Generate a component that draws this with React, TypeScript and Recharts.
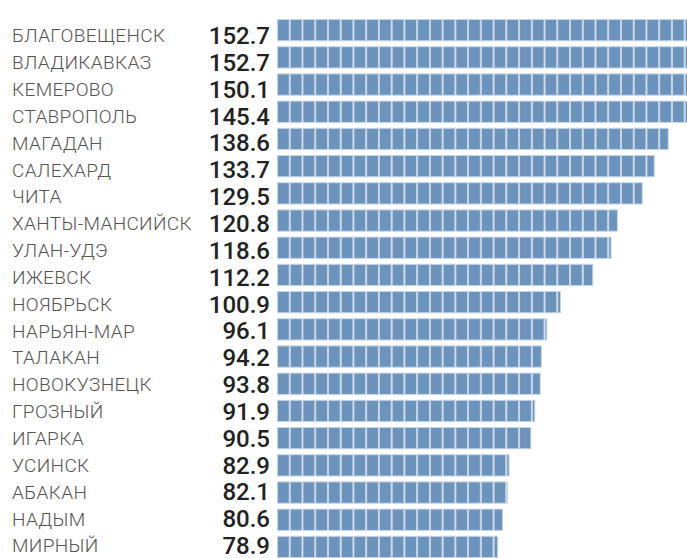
import React from 'react';
import { BarChart, Bar, XAxis, YAxis } from 'recharts';

const cities = [
  'БЛАГОВЕЩЕНСК', 'ВЛАДИКАВКАЗ', 'КЕМЕРОВО', 'СТАВРОПОЛЬ', 'МАГАДАН',
  'САЛЕХАРД', 'ЧИТА', 'ХАНТЫ-МАНСИЙСК', 'УЛАН-УДЭ', 'ИЖЕВСК',
  'НОЯБРЬСК', 'НАРЬЯН-МАР', 'ТАЛАКАН', 'НОВОКУЗНЕЦК', 'ГРОЗНЫЙ',
  'ИГАРКА', 'УСИНСК', 'АБАКАН', 'НАДЫМ', 'МИРНЫЙ',
];
const values = [
  152.7, 152.7, 150.1, 145.4, 138.6,
  133.7, 129.5, 120.8, 118.6, 112.2,
  100.9, 96.1, 94.2, 93.8, 91.9,
  90.5, 82.9, 82.1, 80.6, 78.9,
];

const data = cities.map((name, i) => ({ name, value: values[i] }));

const BLUE = '#6b93bc';
const EDGE = '#c6d5e6';
const PITCH = 12.74;

const SegmentedBar = (props: any) => {
  const { x, y, width, height } = props;
  if (!width || width <= 0) return null;
  const rects = [];
  for (let i = 0, s = x; s < x + width - 0.2; i++, s += PITCH) {
    const w = Math.min(PITCH, x + width - s);
    rects.push(
      <rect
        key={i}
        x={s + 0.5}
        y={y + 0.5}
        width={Math.max(w - 1, 0.5)}
        height={height - 1}
        fill={BLUE}
        stroke={EDGE}
        strokeWidth={1}
      />
    );
  }
  return <g>{rects}</g>;
};

const CityTick = (props: any) => {
  const { y, payload } = props;
  const i = payload.index;
  const center = y + 5 - 0.36 * i;
  return (
    <g>
      <text x={12} y={center + 6.8} fill="#555" fontSize={19} fontWeight={300} letterSpacing={0.35} fontFamily="Roboto" textAnchor="start">
        {payload.value}
      </text>
      <text x={270} y={center + 8.5} fill="#222" fontSize={24} fontWeight={500} fontFamily="Roboto" textAnchor="end">
        {values[i].toFixed(1)}
      </text>
    </g>
  );
};

export default function App() {
  return (
    <div style={{ position: 'fixed', left: 0, top: 0, width: 687, height: 558, overflow: 'hidden', background: '#fff' }}>
      <BarChart
        width={687}
        height={570}
        data={data}
        layout="vertical"
        margin={{ top: 17, right: 0, bottom: 9, left: 0 }}
        barCategoryGap={4.9}
      >
        <XAxis type="number" hide domain={[1.5, 145]} allowDataOverflow />
        <YAxis
          type="category"
          dataKey="name"
          width={277}
          axisLine={false}
          tickLine={false}
          interval={0}
          tick={<CityTick />}
        />
        <Bar dataKey="value" barSize={22.3} shape={<SegmentedBar />} isAnimationActive={false} />
      </BarChart>
    </div>
  );
}
